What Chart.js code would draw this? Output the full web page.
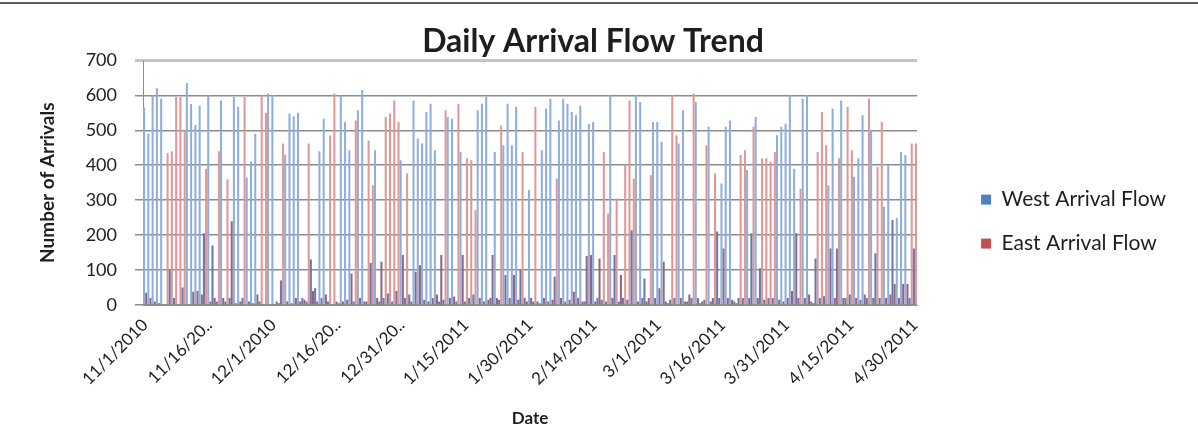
<!DOCTYPE html>
<html>
<head>
<meta charset="utf-8">
<script src="https://cdn.jsdelivr.net/npm/chart.js@4.4.1/dist/chart.umd.min.js"></script>
<style>
  html, body { margin: 0; padding: 0; background: #fff; }
  #wrap { position: relative; width: 1198px; height: 435px; }
  #frame { position: absolute; left: 0; right: 0; top: 2px; height: 2px; background: #5c5c5c; }
</style>
</head>
<body>
<div id="wrap">
  <canvas id="chartArrivals" width="1198" height="435"></canvas>
  <div id="frame"></div>
</div>
<script>
// dias de 11/1/2010 a 4/30/2011 (181 categorias)
const firstDay = new Date(2010, 10, 1);
const numDays = 181;
const dateLabels = [];
for (let i = 0; i < numDays; i++) {
    const d = new Date(firstDay.getFullYear(), firstDay.getMonth(), firstDay.getDate() + i);
    dateLabels.push(`${d.getMonth() + 1}/${d.getDate()}/${d.getFullYear()}`);
}

// rótulos mostrados no eixo X (um a cada 15 dias, como no Excel)
const tickLabels = ["11/1/2010", "11/16/20..", "12/1/2010", "12/16/20..", "12/31/20..", "1/15/2011",
    "1/30/2011", "2/14/2011", "3/1/2011", "3/16/2011", "3/31/2011", "4/15/2011", "4/30/2011"];
const tickEvery = 15;

// valores (15 dias por linha)
const westFlow = [
    565, 490, 600, 620, 590, 0, 100, 20, 0, 50, 635, 575, 515, 570, 205,
    600, 170, 10, 585, 10, 20, 595, 567, 20, 365, 410, 490, 10, 0, 605,
    600, 10, 70, 430, 548, 540, 550, 20, 10, 130, 48, 440, 533, 10, 0,
    10, 600, 524, 443, 10, 557, 615, 10, 120, 443, 10, 20, 33, 10, 40,
    414, 20, 30, 585, 476, 462, 552, 576, 443, 10, 15, 538, 533, 10, 438,
    10, 20, 30, 557, 576, 595, 20, 438, 15, 457, 576, 457, 567, 100, 20,
    329, 10, 10, 443, 562, 590, 81, 528, 590, 576, 552, 543, 571, 10, 519,
    524, 20, 15, 10, 600, 143, 10, 20, 15, 214, 600, 581, 76, 20, 524,
    524, 467, 10, 15, 20, 462, 557, 10, 20, 581, 5, 15, 510, 20, 210,
    348, 510, 528, 10, 20, 20, 386, 205, 538, 105, 15, 20, 20, 486, 510,
    519, 600, 390, 20, 590, 600, 10, 133, 20, 25, 343, 562, 162, 585, 20,
    30, 367, 420, 543, 20, 500, 148, 20, 281, 400, 243, 250, 438, 429, 20,
    162
];
const eastFlow = [
    35, 20, 10, 5, 0, 435, 440, 595, 595, 500, 0, 38, 40, 30, 390,
    10, 20, 440, 20, 360, 240, 5, 10, 595, 10, 5, 30, 600, 550, 0,
    0, 5, 462, 10, 5, 20, 10, 15, 462, 40, 10, 20, 30, 485, 605,
    5, 10, 15, 90, 528, 20, 10, 471, 343, 20, 124, 538, 548, 585, 524,
    143, 376, 10, 95, 114, 15, 10, 20, 30, 143, 557, 20, 24, 576, 143,
    420, 414, 271, 20, 10, 15, 143, 20, 514, 86, 20, 86, 15, 438, 10,
    20, 567, 5, 20, 10, 15, 362, 20, 10, 15, 38, 20, 10, 140, 143,
    10, 133, 438, 262, 20, 305, 86, 400, 585, 362, 10, 20, 10, 371, 20,
    48, 124, 5, 600, 486, 20, 10, 30, 605, 20, 10, 457, 10, 376, 20,
    162, 20, 15, 5, 429, 443, 20, 510, 20, 420, 420, 410, 438, 15, 10,
    20, 40, 205, 333, 20, 30, 5, 438, 552, 457, 162, 20, 420, 20, 567,
    443, 20, 15, 30, 590, 20, 395, 524, 20, 30, 60, 20, 60, 60, 462,
    462
];

const fontFamily = "Lato, 'Open Sans', sans-serif";
const textColor = "#1e1e1e";
const gridColor = "#8c8c8c";

// barras baixas aparecem mais escuras no original
function corBarra(clara, escura) {
    return (c) => (c.raw < 250 ? escura : clara);
}

const ctx = document.getElementById("chartArrivals").getContext("2d");
new Chart(ctx, {
    type: "bar",
    data: {
        labels: dateLabels,
        datasets: [
            {
                label: "West Arrival Flow",
                data: westFlow,
                backgroundColor: corBarra("#8eaedb", "#6a78a8"),
                legendColor: "#4f81bd",
                categoryPercentage: 1.0,
                barPercentage: 0.95,
            },
            {
                label: "East Arrival Flow",
                data: eastFlow,
                backgroundColor: corBarra("#df9896", "#93637f"),
                legendColor: "#c0504d",
                categoryPercentage: 1.0,
                barPercentage: 0.95,
            },
        ],
    },
    options: {
        responsive: false,
        animation: false,
        layout: {
            padding: { left: 10, right: 22, top: 0, bottom: 5 }
        },
        plugins: {
            title: {
                display: true,
                text: "Daily Arrival Flow Trend",
                color: textColor,
                font: { family: fontFamily, size: 32, weight: "bold" },
                padding: { top: 22, bottom: 0 }
            },
            legend: {
                position: "right",
                maxWidth: 260,
                title: { display: true, text: "", font: { size: 11 }, padding: 0 },
                labels: {
                    color: textColor,
                    boxWidth: 10,
                    boxHeight: 10,
                    padding: 23,
                    font: { family: fontFamily, size: 21 },
                    generateLabels: (chart) => chart.data.datasets.map((ds, i) => ({
                        text: ds.label,
                        fillStyle: ds.legendColor,
                        strokeStyle: ds.legendColor,
                        lineWidth: 0,
                        fontColor: textColor,
                        datasetIndex: i,
                        hidden: false
                    }))
                }
            },
            tooltip: { enabled: false }
        },
        scales: {
            x: {
                grid: { display: false },
                border: { display: true, color: gridColor },
                ticks: {
                    autoSkip: false,
                    minRotation: 45,
                    maxRotation: 45,
                    color: textColor,
                    font: { family: fontFamily, size: 17 },
                    padding: 2,
                    callback: function (value, index) {
                        if (index % tickEvery !== 0) return null;
                        return tickLabels[index / tickEvery];
                    }
                },
                title: {
                    display: true,
                    text: "Date",
                    color: textColor,
                    font: { family: fontFamily, size: 17, weight: "bold" },
                    padding: { top: 0, bottom: 1 }
                },
                afterFit: (scale) => { scale.height = 125; }
            },
            y: {
                min: 0,
                max: 700,
                ticks: {
                    stepSize: 100,
                    color: textColor,
                    font: { family: fontFamily, size: 18 },
                    padding: 18
                },
                grid: {
                    drawTicks: true,
                    tickLength: 8,
                    color: (c) => c.tick && c.tick.value === 700 ? "#c4c4c4" : gridColor,
                    lineWidth: (c) => c.tick && c.tick.value === 700 ? 3 : 1.5
                },
                border: { display: true, color: gridColor },
                title: {
                    display: true,
                    text: "Number of Arrivals",
                    color: textColor,
                    font: { family: fontFamily, size: 19, weight: "bold" },
                    padding: { top: 26, bottom: 0 }
                },
                afterFit: (scale) => { scale.width = 133; }
            },
            // eixo vazio só para afastar a legenda da área do gráfico
            gap: {
                type: "linear",
                position: "right",
                display: true,
                grid: { display: false },
                border: { display: false },
                ticks: { display: false },
                afterFit: (scale) => { scale.width = 41; }
            }
        }
    }
});
</script>
</body>
</html>
